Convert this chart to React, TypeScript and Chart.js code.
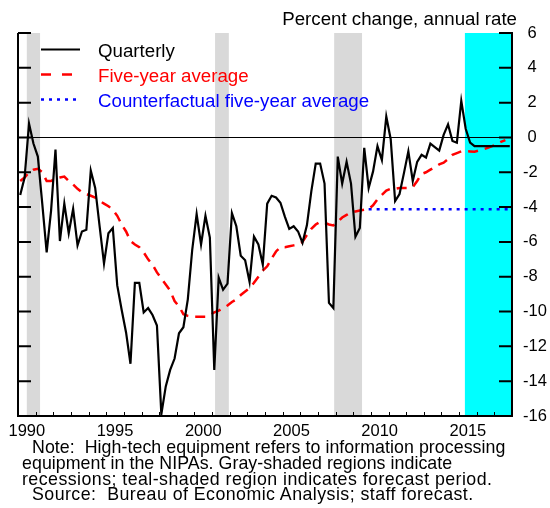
import React, { useEffect, useRef } from "react";
import { Chart, registerables } from "chart.js";

Chart.register(...registerables);

const FONT = '"Liberation Sans", Arial, Helvetica, sans-serif';
const FIRST_YEAR = 1990;

// Quarterly percent change, annual rate (1990Q1 .. 2017Q4)
const quarterly: number[] = [
  -3.3, -2.3, 0.8, -0.35, // 1990
  -1.1, -3.8, -6.6, -4.2, // 1991
  -0.7, -5.95, -3.8, -5.5, // 1992
  -4.1, -6.2, -5.4, -5.3, // 1993
  -1.9, -2.9, -5.1, -7.25, // 1994
  -5.5, -5.2, -8.5, -9.9, // 1995
  -11.2, -13.0, -8.35, -8.35, // 1996
  -10.05, -9.8, -10.2, -10.8, // 1997
  -15.9, -14.3, -13.35, -12.7, // 1998
  -11.25, -10.9, -9.3, -6.45, // 1999
  -4.4, -6.15, -4.5, -5.75, // 2000
  -13.35, -8.05, -8.75, -8.4, // 2001
  -4.35, -5.1, -6.8, -7.05, // 2002
  -8.3, -5.7, -6.15, -7.3, // 2003
  -3.8, -3.35, -3.45, -3.75, // 2004
  -4.55, -5.25, -5.1, -5.4, // 2005
  -6.05, -5.05, -3.1, -1.5, // 2006
  -1.5, -2.65, -9.5, -9.8, // 2007
  -1.1, -2.65, -1.4, -2.65, // 2008
  -5.7, -5.2, -0.6, -2.9, // 2009
  -1.95, -0.5, -1.3, 1.2, // 2010
  -0.1, -3.65, -3.25, -2.05, // 2011
  -0.8, -2.5, -1.4, -1.0, // 2012
  -1.15, -0.35, -0.55, -0.75, // 2013
  0.15, 0.75, -0.2, -0.3, // 2014
  2.1, 0.5, -0.3, -0.5, // 2015
  -0.5, -0.5, -0.5, -0.5, // 2016
  -0.5, -0.5, -0.5, -0.5, // 2017
];

// Five-year average (1990Q1 .. 2017Q3)
const fiveYearAverage: number[] = [
  -2.5, -2.3, -2.0, -1.85, // 1990
  -1.8, -2.0, -2.5, -2.5, // 1991
  -2.35, -2.3, -2.25, -2.5, // 1992
  -2.7, -2.95, -3.15, -3.25, // 1993
  -3.35, -3.45, -3.65, -3.8, // 1994
  -3.95, -4.15, -4.5, -5.0, // 1995
  -5.4, -5.95, -6.15, -6.3, // 1996
  -6.6, -7.0, -7.3, -7.75, // 1997
  -8.1, -8.45, -8.8, -9.4, // 1998
  -9.7, -10.15, -10.25, -10.3, // 1999
  -10.3, -10.3, -10.3, -10.2, // 2000
  -10.05, -9.95, -9.8, -9.65, // 2001
  -9.45, -9.3, -9.05, -8.85, // 2002
  -8.65, -8.35, -8.0, -7.65, // 2003
  -7.4, -6.95, -6.55, -6.3, // 2004
  -6.3, -6.25, -6.2, -6.15, // 2005
  -6.0, -5.6, -5.25, -5.0, // 2006
  -4.85, -4.9, -5.0, -5.05, // 2007
  -4.85, -4.6, -4.45, -4.3, // 2008
  -4.25, -4.2, -4.15, -4.1, // 2009
  -3.9, -3.55, -3.3, -3.05, // 2010
  -2.95, -2.95, -2.9, -2.9, // 2011
  -2.9, -2.85, -2.5, -2.1, // 2012
  -2.0, -1.85, -1.7, -1.55, // 2013
  -1.45, -1.25, -1.0, -0.9, // 2014
  -0.8, -0.78, -0.8, -0.82, // 2015
  -0.75, -0.68, -0.6, -0.5, // 2016
  -0.4, -0.25, -0.15, // 2017
];

// Counterfactual five-year average (2009Q4 .. 2017Q4)
const counterfactualStartIndex = 79; // 2009Q4
const counterfactual: number[] = [
  -4.12, // 2009Q4
  -4.12, -4.12, -4.12, -4.12, // 2010
  -4.12, -4.12, -4.12, -4.12, // 2011
  -4.12, -4.12, -4.12, -4.12, // 2012
  -4.12, -4.12, -4.12, -4.12, // 2013
  -4.12, -4.12, -4.12, -4.12, // 2014
  -4.12, -4.12, -4.12, -4.12, // 2015
  -4.12, -4.12, -4.12, -4.12, // 2016
  -4.12, -4.12, -4.12, -4.12, // 2017
];

const recessions: [number, number][] = [
  [1990.5, 1991.25],
  [2001.17, 2001.95],
  [2007.92, 2009.5],
];
const forecastPeriod: [number, number] = [2015.33, 2018];

const xLabelYears = [1990, 1995, 2000, 2005, 2010, 2015];
const xMin = 1990;
const xMax = 2018;
const yMin = -16;
const yMax = 6;
const yStep = 2;

const titleText = "Percent change, annual rate";
const noteLines = [
  { text: "Note:  High-tech equipment refers to information processing", indent: 10, spacing: 0.05 },
  { text: "equipment in the NIPAs. Gray-shaded regions indicate", indent: 0, spacing: 0.05 },
  { text: "recessions; teal-shaded region indicates forecast period.", indent: 0, spacing: 0.45 },
  { text: "Source:  Bureau of Economic Analysis; staff forecast.", indent: 10, spacing: 0.45 },
];

const quarterPos = (i: number) => FIRST_YEAR + (i + 0.5) / 4;

const decorPlugin = {
  id: "decor",
  beforeDraw(chart: any) {
    const { ctx, chartArea: a, scales } = chart;
    const x = scales.x;
    ctx.save();
    ctx.fillStyle = "#d9d9d9";
    recessions.forEach(([s, e]) => {
      const x0 = x.getPixelForValue(s);
      const x1 = x.getPixelForValue(e);
      ctx.fillRect(x0, a.top, x1 - x0, a.bottom - a.top);
    });
    ctx.fillStyle = "#00ffff";
    const f0 = x.getPixelForValue(forecastPeriod[0]);
    const f1 = x.getPixelForValue(forecastPeriod[1]);
    ctx.fillRect(f0, a.top, f1 - f0, a.bottom - a.top);
    ctx.restore();
  },
  afterDraw(chart: any) {
    const { ctx, chartArea: a, scales } = chart;
    const x = scales.x;
    const y = scales.y;
    ctx.save();
    ctx.strokeStyle = "#000";
    // left axis line
    ctx.lineWidth = 2;
    ctx.beginPath();
    ctx.moveTo(a.left, a.top);
    ctx.lineTo(a.left, a.bottom + 1);
    ctx.stroke();
    // inward y ticks on both sides
    y.ticks.forEach((t: any) => {
      const py = y.getPixelForValue(t.value);
      ctx.beginPath();
      ctx.moveTo(a.left, py);
      ctx.lineTo(a.left + 13, py);
      ctx.moveTo(a.right, py);
      ctx.lineTo(a.right - 13, py);
      ctx.stroke();
    });
    // inward x ticks at each year
    ctx.lineWidth = 1;
    for (let yr = xMin + 1; yr < xMax; yr++) {
      const px = Math.round(x.getPixelForValue(yr)) + 0.5;
      ctx.beginPath();
      ctx.moveTo(px, a.bottom);
      ctx.lineTo(px, a.bottom - 4);
      ctx.stroke();
    }
    // title
    ctx.fillStyle = "#000";
    ctx.font = `18.7px ${FONT}`;
    ctx.textAlign = "right";
    ctx.textBaseline = "alphabetic";
    ctx.fillText(titleText, 517, 25);
    // legend
    ctx.textAlign = "left";
    chart.data.datasets.forEach((ds: any, i: number) => {
      const ly = 49.5 + i * 25;
      ctx.strokeStyle = ds.borderColor;
      ctx.lineWidth = ds.borderWidth;
      ctx.setLineDash(ds.legendDash || ds.borderDash || []);
      ctx.beginPath();
      ctx.moveTo(41, ly);
      ctx.lineTo(ds.legendEnd || 80, ly);
      ctx.stroke();
      ctx.setLineDash([]);
      ctx.fillStyle = ds.borderColor;
      ctx.fillText(ds.label, 98, 56.5 + i * 25);
    });
    ctx.restore();
  },
};

export default function App() {
  const ref = useRef<HTMLCanvasElement>(null);
  useEffect(() => {
    document.body.style.margin = "0";
    const canvas = ref.current!;
    const chart = new Chart(canvas, {
      type: "line",
      data: {
        datasets: [
          {
            label: "Quarterly",
            data: quarterly.map((v, i) => ({ x: quarterPos(i), y: v })),
            borderColor: "#000000",
            borderWidth: 2.2,
            pointRadius: 0,
            tension: 0,
          } as any,
          {
            label: "Five-year average",
            data: fiveYearAverage.map((v, i) => ({ x: quarterPos(i), y: v })),
            borderColor: "#ff0000",
            borderWidth: 2.5,
            borderDash: [10, 7],
            legendDash: [10, 11],
            legendEnd: 72,
            pointRadius: 0,
            tension: 0,
          } as any,
          {
            label: "Counterfactual five-year average",
            data: counterfactual.map((v, i) => ({ x: quarterPos(i + counterfactualStartIndex), y: v })),
            borderColor: "#0000ff",
            borderWidth: 2.5,
            borderDash: [3, 5],
            pointRadius: 0,
            tension: 0,
            legendEnd: 76,
          } as any,
        ],
      },
      options: {
        responsive: false,
        animation: false,
        devicePixelRatio: 1,
        layout: { padding: { left: 18, top: 33, right: 0, bottom: 0 } },
        plugins: { legend: { display: false }, tooltip: { enabled: false }, title: { display: false } },
        scales: {
          x: {
            type: "linear",
            min: xMin,
            max: xMax,
            afterBuildTicks: (scale: any) => {
              scale.ticks = xLabelYears.map((yr) => ({ value: yr + 0.5 }));
            },
            afterFit: (scale: any) => {
              scale.height = 92;
            },
            ticks: {
              autoSkip: false,
              maxRotation: 0,
              minRotation: 0,
              padding: 6,
              color: "#000",
              font: { family: FONT, size: 16.5 },
              callback: (v: any) => String(Math.floor(Number(v))),
            },
            grid: { display: false, drawTicks: false },
            border: { display: true, color: "#000", width: 2 },
          },
          y: {
            type: "linear",
            position: "right",
            min: yMin,
            max: yMax,
            afterFit: (scale: any) => {
              scale.width = 38;
            },
            ticks: {
              stepSize: yStep,
              padding: 11,
              color: "#000",
              font: { family: FONT, size: 16.5 },
              callback: (v: any) => (Number(v) >= 0 ? " " + v : String(v)),
            },
            grid: {
              drawTicks: false,
              lineWidth: 1,
              color: (c: any) => (c.tick && c.tick.value === 0 ? "#000" : "rgba(0,0,0,0)"),
            },
            border: { display: true, color: "#000", width: 2 },
          },
        },
      } as any,
      plugins: [decorPlugin],
    });
    return () => chart.destroy();
  }, []);

  return (
    <div style={{ position: "relative", width: 550, height: 508, background: "#fff", overflow: "hidden" }}>
      <canvas ref={ref} width={550} height={508} style={{ display: "block" }} />
      <div style={{ position: "absolute", left: 22, top: 440, fontFamily: FONT, fontSize: 17.8, color: "#000" }}>
        {noteLines.map((l, i) => (
          <div
            key={i}
            style={{ height: 15.8, lineHeight: "15.8px", paddingLeft: l.indent, whiteSpace: "pre", letterSpacing: l.spacing }}
          >
            {l.text}
          </div>
        ))}
      </div>
    </div>
  );
}
